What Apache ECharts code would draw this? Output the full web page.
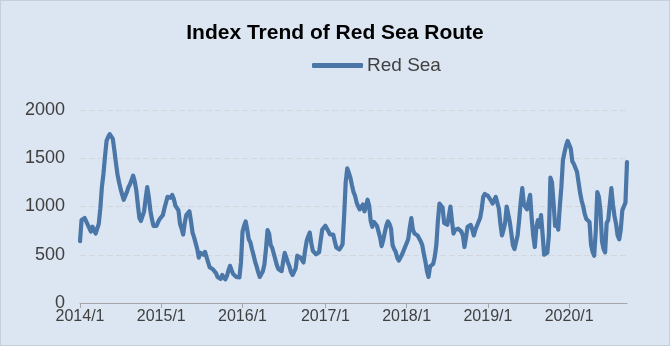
<!DOCTYPE html>
<html>
<head>
<meta charset="utf-8">
<script src="https://cdn.jsdelivr.net/npm/echarts@6/dist/echarts.min.js"></script>
<style>
html,body{margin:0;padding:0;background:#dce6f2;}
#c{width:670px;height:346px;box-sizing:border-box;border:1px solid #c6ced8;}
</style>
</head>
<body>
<div id="c"></div>
<script>
// Weekly data, first week 2014-01-03
const startDate = [2014, 1, 3];
const seriesName = 'Red Sea';
const redSea = [
640, 860, 870, 880, 860, 810, 790, 740, 790, 760,
720, 700, 820, 980, 1200, 1340, 1520, 1680, 1720, 1750,
1770, 1700, 1580, 1450, 1330, 1250, 1180, 1120, 1070, 1060,
1150, 1200, 1230, 1250, 1320, 1260, 1170, 1020, 880, 850,
830, 950, 1080, 1200, 1100, 960, 870, 800, 780, 800,
840, 870, 890, 910, 980, 1000, 1100, 1110, 1090, 1120,
1080, 1010, 990, 960, 820, 770, 710, 830, 910, 930,
950, 850, 730, 680, 620, 560, 470, 520, 540, 500,
530, 510, 420, 370, 360, 350, 355, 310, 270, 260,
250, 290, 270, 245, 280, 340, 385, 340, 300, 285,
270, 265, 265, 420, 740, 800, 845, 760, 660, 630,
560, 500, 430, 380, 320, 270, 290, 330, 400, 560,
755, 720, 600, 570, 510, 500, 390, 350, 335, 330,
430, 520, 470, 420, 380, 320, 290, 270, 360, 490,
480, 470, 475, 420, 540, 640, 690, 730, 620, 540,
520, 505, 510, 525, 650, 760, 780, 800, 790, 740,
710, 720, 710, 640, 575, 560, 555, 580, 610, 900,
1250, 1395, 1350, 1300, 1220, 1150, 1110, 1040, 1000, 970,
990, 1020, 950, 1000, 1070, 1010, 850, 790, 840, 860,
800, 740, 680, 590, 650, 730, 800, 845, 820, 770,
600, 560, 530, 470, 440, 470, 500, 540, 580, 620,
660, 780, 880, 760, 720, 710, 700, 680, 640, 600,
510, 430, 330, 270, 380, 400, 405, 480, 600, 850,
1030, 1010, 990, 830, 850, 810, 900, 1000, 850, 720,
760, 780, 770, 760, 740, 700, 580, 680, 790, 800,
810, 760, 700, 760, 800, 810, 880, 970, 1100, 1130,
1140, 1110, 1090, 1060, 1030, 1020, 1100, 1120, 980, 820,
700, 760, 830, 1000, 1020, 840, 720, 600, 560, 560,
700, 860, 1050, 1190, 1020, 1000, 970, 1050, 1120, 880,
700, 580, 780, 860, 790, 910, 710, 500, 480, 520,
700, 1300, 1250, 1040, 800, 840, 760, 1000, 1200, 1480,
1560, 1630, 1680, 1670, 1600, 1470, 1440, 1420, 1360, 1250,
1140, 1060, 1000, 920, 870, 850, 840, 600, 530, 490,
740, 1150, 1100, 960, 640, 560, 525, 830, 860, 870,
1190, 1020, 900, 820, 700, 660, 760, 960, 1000, 1040,
1460
];
const yTicks = [0, 500, 1000, 1500, 2000];

// weekly category dates
const categories = [];
{
  const d0 = new Date(Date.UTC(startDate[0], startDate[1] - 1, startDate[2]));
  for (let i = 0; i < redSea.length; i++) {
    const d = new Date(d0.getTime() + i * 7 * 86400000);
    categories.push(d.getUTCFullYear() + '/' + (d.getUTCMonth() + 1) + '/' + d.getUTCDate());
  }
}
function isYearStart(value) {
  const p = String(value).split('/');
  return p[1] === '1' && Number(p[2]) <= 7;
}

const chart = echarts.init(document.getElementById('c'), null, {renderer: 'canvas'});
chart.setOption({
  backgroundColor: '#dce6f2',
  animation: false,
  title: {
    text: 'Index Trend of Red Sea Route',
    left: 'center',
    top: 17,
    textStyle: {fontFamily: 'Liberation Sans, Arial', fontWeight: 'bold', fontSize: 21, color: '#000'}
  },
  legend: {
    top: 55,
    left: 311,
    padding: 0,
    icon: 'roundRect',
    itemWidth: 51,
    itemHeight: 5,
    itemGap: 6,
    textStyle: {fontFamily: 'Liberation Sans, Arial', fontSize: 19, color: '#404040', padding: [0, 0, 0, -1]},
    data: [seriesName]
  },
  grid: {left: 79, right: 42, top: 109, bottom: 42, containLabel: false},
  xAxis: {
    type: 'category',
    boundaryGap: false,
    data: categories,
    axisLine: {lineStyle: {color: '#a6a6a6', width: 1}},
    axisTick: {show: true, length: 5, lineStyle: {color: '#a6a6a6'}, interval: (i, v) => isYearStart(v)},
    axisLabel: {
      interval: (i, v) => isYearStart(v),
      formatter: v => v.split('/')[0] + '/1',
      fontFamily: 'Liberation Sans, Arial', fontSize: 16, color: '#404040', margin: 6
    },
    splitLine: {show: false}
  },
  yAxis: {
    type: 'value',
    min: yTicks[0],
    max: yTicks[yTicks.length - 1],
    interval: 500,
    axisLine: {show: false},
    axisTick: {show: false},
    axisLabel: {formatter: v => String(v), fontFamily: 'Liberation Sans, Arial', fontSize: 18, color: '#404040', margin: 15},
    splitLine: {lineStyle: {color: '#d3d6da', type: [6, 3], width: 1}}
  },
  series: [{
    name: seriesName,
    type: 'line',
    data: redSea,
    symbol: 'none',
    lineStyle: {color: '#4a77a8', width: 4.2, join: 'round', cap: 'round'},
    itemStyle: {color: '#4a77a8'}
  }]
});
</script>
</body>
</html>
